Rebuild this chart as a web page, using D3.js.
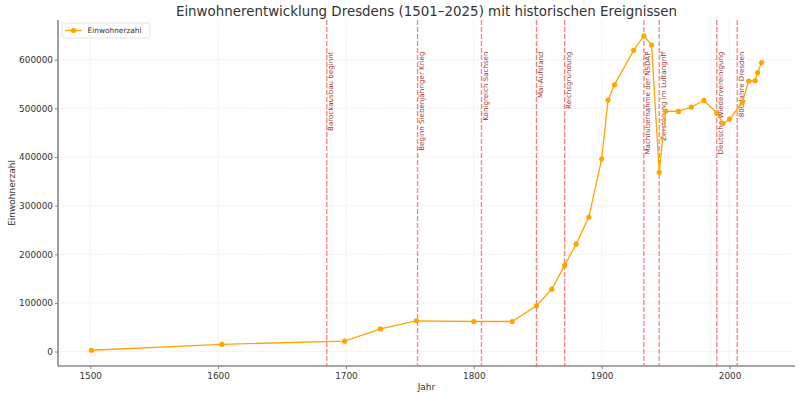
<!DOCTYPE html>
<html>
<head>
<meta charset="utf-8">
<script src="https://cdn.jsdelivr.net/npm/d3@7"></script>
<style>
  body { margin: 0; background: #fff; }
  svg { font-family: "DejaVu Sans", sans-serif; }
</style>
</head>
<body>
<svg id="chart" width="800" height="397"></svg>
<script>
// population figures
const years = [1501, 1603, 1699, 1727, 1755, 1800, 1830, 1849, 1861, 1871, 1880, 1890, 1900,
  1905, 1910, 1925, 1933, 1939, 1945, 1950, 1960, 1970, 1980, 1990, 1995, 2000, 2010,
  2015, 2020, 2022, 2025];
const population = [2600, 14800, 21300, 46500, 63200, 61800, 61800, 94100, 128200, 177100, 220800, 276500, 396100,
  517000, 548300, 619200, 649300, 630200, 368500, 494200, 493600, 502400, 516200, 490600, 469100, 477700, 512200,
  556000, 556800, 573500, 594000];

const eventYears = [1685, 1756, 1806, 1849, 1871, 1933, 1945, 1990, 2006];
const eventNames = ["Barockausbau beginnt", "Beginn Siebenjähriger Krieg", "Königreich Sachsen",
  "Mai-Aufstand", "Reichsgründung", "Machtübernahme der NSDAP", "Zerstörung im Luftangriff",
  "Deutsche Wiedervereinigung", "800 Jahre Dresden"];

const xTicks = [1500, 1600, 1700, 1800, 1900, 2000];
const yTicks = [0, 100000, 200000, 300000, 400000, 500000, 600000];

const data = years.map((y, i) => ({ year: y, value: population[i] }));

const margin = { left: 58, right: 5, top: 20, bottom: 31 };
const W = 800, H = 397;
const svg = d3.select("#chart");

// 5% padding like matplotlib
const xr = d3.extent(years), yr = d3.extent(population);
const xp = (xr[1] - xr[0]) * 0.05, yp = (yr[1] - yr[0]) * 0.05;
const x = d3.scaleLinear().domain([xr[0] - xp, xr[1] + xp]).range([margin.left, W - margin.right]);
const y = d3.scaleLinear().domain([yr[0] - yp, yr[1] + yp]).range([H - margin.bottom, margin.top]);

const textCol = "#333";

// grid
svg.append("g").selectAll("line").data(xTicks).join("line")
  .attr("x1", d => x(d)).attr("x2", d => x(d))
  .attr("y1", margin.top).attr("y2", H - margin.bottom)
  .attr("stroke", "#ddd").attr("stroke-width", 0.8).attr("stroke-dasharray", "1,1.5");
svg.append("g").selectAll("line").data(yTicks).join("line")
  .attr("x1", margin.left).attr("x2", W - margin.right)
  .attr("y1", d => y(d)).attr("y2", d => y(d))
  .attr("stroke", "#ddd").attr("stroke-width", 0.8).attr("stroke-dasharray", "1,1.5");

// event lines
svg.append("g").selectAll("line").data(eventYears).join("line")
  .attr("x1", d => x(d)).attr("x2", d => x(d))
  .attr("y1", margin.top).attr("y2", H - margin.bottom)
  .attr("stroke", "red").attr("stroke-opacity", 0.5)
  .attr("stroke-width", 1.3).attr("stroke-dasharray", "4.9,2.1");

// labels read bottom-to-top, top end at 95% of the maximum
const labelY = y(d3.max(population) * 0.95);
svg.append("g").selectAll("text").data(eventYears).join("text")
  .attr("transform", d => `translate(${x(d) + 6.3},${labelY}) rotate(-90)`)
  .attr("text-anchor", "end")
  .attr("fill", "darkred").attr("fill-opacity", 0.85)
  .style("font-size", "7.1px")
  .text((d, i) => eventNames[i]);

// axes
const xAxis = svg.append("g").attr("transform", `translate(0,${H - margin.bottom})`)
  .call(d3.axisBottom(x).tickValues(xTicks).tickFormat(d3.format("d")).tickSize(3).tickPadding(4));
const yAxis = svg.append("g").attr("transform", `translate(${margin.left},0)`)
  .call(d3.axisLeft(y).tickValues(yTicks).tickFormat(d3.format("d")).tickSize(3).tickPadding(2));
[xAxis, yAxis].forEach(a => {
  a.select(".domain").attr("stroke", "#888").attr("stroke-width", 1.6);
  a.selectAll(".tick line").attr("stroke", "#888");
  a.selectAll(".tick text").attr("fill", textCol).style("font-size", "8.9px").style("font-family", "DejaVu Sans");
});
xAxis.select(".domain").attr("d", `M${margin.left},0H${W - margin.right}`);
yAxis.select(".domain").attr("d", `M0,${margin.top}V${H - margin.bottom}`);

// series
const line = d3.line().x(d => x(d.year)).y(d => y(d.value));
svg.append("path").datum(data).attr("d", line)
  .attr("fill", "none").attr("stroke", "orange").attr("stroke-width", 1.3);
svg.append("g").selectAll("circle").data(data).join("circle")
  .attr("cx", d => x(d.year)).attr("cy", d => y(d.value)).attr("r", 2.6)
  .attr("fill", "orange");

// titles
svg.append("text").attr("x", (margin.left + W - margin.right) / 2).attr("y", 15.5)
  .attr("text-anchor", "middle").attr("fill", textCol).style("font-size", "13.4px")
  .text("Einwohnerentwicklung Dresdens (1501–2025) mit historischen Ereignissen");
svg.append("text").attr("x", (margin.left + W - margin.right) / 2).attr("y", 390)
  .attr("text-anchor", "middle").attr("fill", textCol).style("font-size", "9px").text("Jahr");
svg.append("text")
  .attr("transform", `translate(14.5,${(margin.top + H - margin.bottom) / 2}) rotate(-90)`)
  .attr("text-anchor", "middle").attr("fill", textCol).style("font-size", "9px").text("Einwohnerzahl");

// legend
const lg = svg.append("g").attr("transform", "translate(62,23)");
lg.append("rect").attr("width", 88).attr("height", 15).attr("rx", 2)
  .attr("fill", "#fff").attr("fill-opacity", 0.8).attr("stroke", "#ddd").attr("stroke-width", 0.8);
lg.append("line").attr("x1", 3).attr("x2", 20).attr("y1", 7.5).attr("y2", 7.5)
  .attr("stroke", "orange").attr("stroke-width", 1.3);
lg.append("circle").attr("cx", 11.5).attr("cy", 7.5).attr("r", 2.6).attr("fill", "orange");
lg.append("text").attr("x", 25.5).attr("y", 10.2).attr("fill", textCol)
  .style("font-size", "7.4px").text("Einwohnerzahl");
</script>
</body>
</html>
